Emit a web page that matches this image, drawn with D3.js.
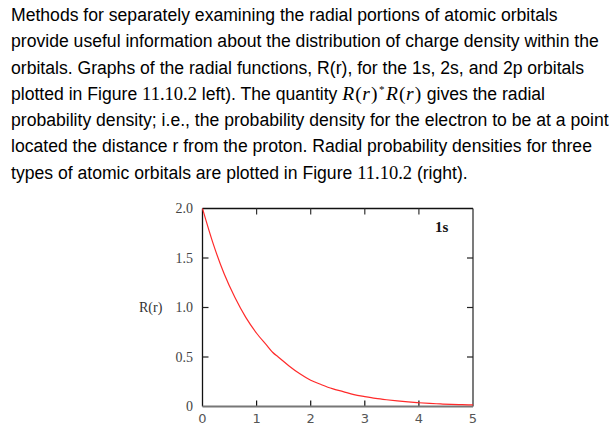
<!DOCTYPE html>
<html>
<head>
<meta charset="utf-8">
<script src="https://cdn.jsdelivr.net/npm/d3@7"></script>
<style>
  body { margin: 0; background: #fff; width: 616px; height: 436px; overflow: hidden; position: relative; }
  #para { position: absolute; left: 11px; top: 2px; font-family: "Liberation Sans", Arial, sans-serif;
          font-size: 17.6px; line-height: 26.3px; color: #000; white-space: nowrap; }
  #para div { height: 26.3px; }
  #para .m { font-family: "Liberation Serif", "DejaVu Serif", serif; font-size: 18.5px; }
  #para .eq { font-family: "Liberation Serif", "DejaVu Serif", serif; font-size: 19.5px; letter-spacing: 0.6px; }
  #para .eq i { letter-spacing: 1px; }
  #para .sup { font-size: 11px; position: relative; top: -7px; margin: 0 1px; }
  svg { position: absolute; left: 0; top: 0; }
</style>
</head>
<body>
<div id="para"></div>
<svg id="chart" width="616" height="436"></svg>
<script>
// paragraph lines (html fragments for the math bits)
const textLines = [
  "Methods for separately examining the radial portions of atomic orbitals",
  "provide useful information about the distribution of charge density within the",
  "orbitals. Graphs of the radial functions, R(r), for the 1s, 2s, and 2p orbitals",
  "plotted in Figure <span class='m'>11.10.2</span> left). The quantity <span class='eq'><i>R</i>(<i>r</i>)<span class='sup'>*</span><i>R</i>(<i>r</i>)</span> gives the radial",
  "probability density; i.e., the probability density for the electron to be at a point",
  "located the distance r from the proton. Radial probability densities for three",
  "types of atomic orbitals are plotted in Figure <span class='m'>11.10.2</span> (right)."
];

// 1s radial function
const rValues = [0, 0.2, 0.4, 0.6, 0.8, 1.0, 1.2, 1.3, 1.4, 1.6, 1.8, 2.0, 2.2, 2.4, 2.6, 2.8,
                 3.0, 3.2, 3.4, 3.6, 3.8, 4.0, 4.2, 4.4, 4.6, 4.8, 5.0];
const Rvalues = [2.00, 1.64, 1.34, 1.10, 0.90, 0.74, 0.61, 0.545, 0.50, 0.41, 0.33, 0.265, 0.22, 0.18, 0.15, 0.12,
                 0.10, 0.082, 0.068, 0.056, 0.046, 0.038, 0.031, 0.026, 0.021, 0.018, 0.016];

const xTicks = [0, 1, 2, 3, 4, 5];
const yTicks = [0, 0.5, 1.0, 1.5, 2.0];
const yTickLabels = ["0", "0.5", "1.0", "1.5", "2.0"];
const yLabel = "R(r)";
const curveLabel = "1s";

d3.select("#para").selectAll("div")
  .data(textLines)
  .enter().append("div")
  .html(d => d);

const svg = d3.select("#chart");
const plot = {left: 202.5, right: 473, top: 208.5, bottom: 406.5};

const x = d3.scaleLinear().domain([0, 5]).range([plot.left, plot.right]);
const y = d3.scaleLinear().domain([0, 2]).range([plot.bottom, plot.top]);

const tickLen = 6;

// frame
svg.append("line").attr("x1", plot.left).attr("x2", plot.right).attr("y1", plot.top).attr("y2", plot.top)
  .attr("stroke", "#111").attr("stroke-width", 1.3);
svg.append("line").attr("x1", plot.right).attr("x2", plot.right).attr("y1", plot.top).attr("y2", plot.bottom)
  .attr("stroke", "#333").attr("stroke-width", 1.3);
svg.append("line").attr("x1", plot.left).attr("x2", plot.left).attr("y1", plot.top).attr("y2", plot.bottom)
  .attr("stroke", "#111").attr("stroke-width", 1.3);

// ticks (inside) for inner values
const innerX = xTicks.filter(d => d > 0 && d < 5);
const innerY = yTicks.filter(d => d > 0 && d < 2);

svg.selectAll(".xtb").data(innerX).enter().append("line")
  .attr("x1", d => x(d)).attr("x2", d => x(d))
  .attr("y1", plot.bottom).attr("y2", plot.bottom - tickLen)
  .attr("stroke", "#111").attr("stroke-width", 1.2);
svg.selectAll(".xtt").data(innerX).enter().append("line")
  .attr("x1", d => x(d)).attr("x2", d => x(d))
  .attr("y1", plot.top).attr("y2", plot.top + tickLen)
  .attr("stroke", "#333").attr("stroke-width", 1.2);
svg.selectAll(".ytl").data(innerY).enter().append("line")
  .attr("x1", plot.left).attr("x2", plot.left + tickLen)
  .attr("y1", d => y(d)).attr("y2", d => y(d))
  .attr("stroke", "#222").attr("stroke-width", 1.2);
svg.selectAll(".ytr").data(innerY).enter().append("line")
  .attr("x1", plot.right).attr("x2", plot.right - tickLen)
  .attr("y1", d => y(d)).attr("y2", d => y(d))
  .attr("stroke", "#222").attr("stroke-width", 1.2);

// bottom axis (grey, thicker)
svg.append("line").attr("x1", plot.left).attr("x2", plot.right).attr("y1", plot.bottom).attr("y2", plot.bottom)
  .attr("stroke", "#777").attr("stroke-width", 2);

// tick labels
svg.selectAll(".xl").data(xTicks).enter().append("text")
  .attr("x", d => x(d)).attr("y", plot.bottom + 16)
  .attr("text-anchor", "middle")
  .attr("font-family", "DejaVu Sans, sans-serif").attr("font-size", 13)
  .attr("fill", "#555")
  .text(d => d);

svg.selectAll(".yl").data(yTicks).enter().append("text")
  .attr("x", 193).attr("y", d => y(d) + 4.5)
  .attr("text-anchor", "end")
  .attr("font-family", "Liberation Serif, serif").attr("font-size", 14)
  .attr("fill", "#444")
  .text((d, i) => yTickLabels[i]);

svg.append("text")
  .attr("x", 139).attr("y", y(1) + 4.5)
  .attr("font-family", "Liberation Serif, serif").attr("font-size", 14)
  .attr("fill", "#333")
  .text(yLabel);

svg.append("text")
  .attr("x", 435).attr("y", 232)
  .attr("font-family", "Liberation Serif, serif").attr("font-size", 15)
  .attr("font-weight", "bold")
  .attr("fill", "#111")
  .text(curveLabel);

// curve
const pts = rValues.map((r, i) => [r, Rvalues[i]]);
svg.append("path")
  .datum(pts)
  .attr("fill", "none")
  .attr("stroke", "#ff2a2a")
  .attr("stroke-width", 1.2)
  .attr("d", d3.line().x(d => x(d[0])).y(d => y(d[1])).curve(d3.curveMonotoneX));
</script>
</body>
</html>
